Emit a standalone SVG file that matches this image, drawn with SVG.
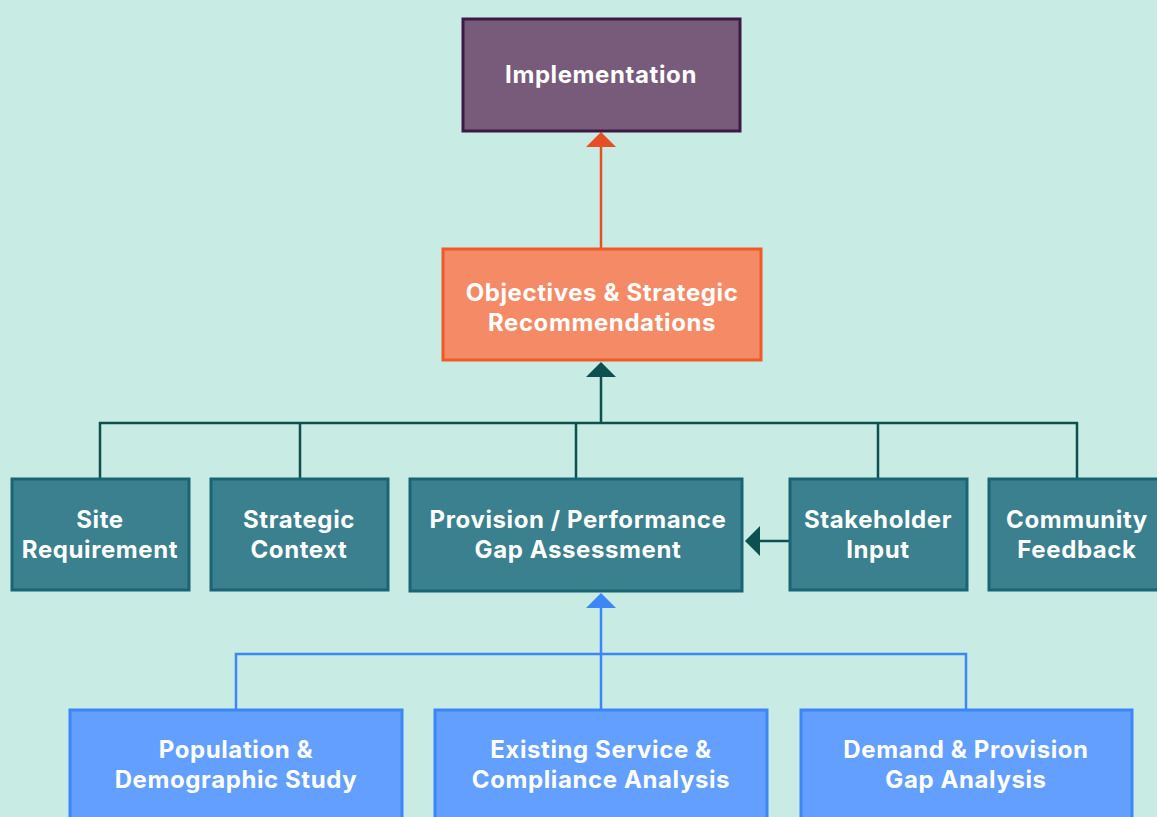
<svg xmlns="http://www.w3.org/2000/svg" width="1157" height="817" viewBox="0 0 1157 817">
<style>
.t{font-family:Inter,"Noto Sans","Liberation Sans",sans-serif;font-weight:700;font-size:24px;letter-spacing:0.6px;fill:#ffffff;text-anchor:middle;dominant-baseline:central}
.purple{fill:#785b7a;stroke:#3d1a45;stroke-width:3}
.orange{fill:#f58a66;stroke:#f05a28;stroke-width:3}
.teal{fill:#3a808e;stroke:#1b6474;stroke-width:3}
.blue{fill:#639ffe;stroke:#3d86f8;stroke-width:3}
.cd{fill:none;stroke:#0d5050;stroke-width:2.5}
.co{fill:none;stroke:#e84e25;stroke-width:2.5}
.cb{fill:none;stroke:#3d86f8;stroke-width:2.5}
</style>
<rect width="1157" height="817" fill="#c8ebe3"/>
<g id="connectors">
<line class="co" x1="601" y1="248" x2="601" y2="144"/>
<polygon points="601,132 616,147 586,147" fill="#e84e25"/>
<path class="cd" d="M100,478 V423 H1077 V478 M300,423 V478 M576,423 V478 M878,423 V478 M601,423 V374"/>
<polygon points="601,362 616,377 586,377" fill="#0d5050"/>
<line class="cd" x1="789" y1="541" x2="758" y2="541"/>
<polygon points="745,541 760,526 760,556" fill="#0d5050"/>
<path class="cb" d="M236,709 V654 H966 V709 M601,709 V605"/>
<polygon points="601,593 616,608 586,608" fill="#3d86f8"/>
</g>
<g id="implementation"><rect class="purple" x="463" y="19" width="277" height="112"/><text class="t" x="601" y="74">Implementation</text></g>
<g id="objectives"><rect class="orange" x="443" y="249" width="318" height="111"/><text class="t" x="602" y="292">Objectives &amp; Strategic</text><text class="t" x="602" y="322">Recommendations</text></g>
<g id="site"><rect class="teal" x="12" y="479" width="177" height="111"/><text class="t" x="100" y="519">Site</text><text class="t" x="100" y="549">Requirement</text></g>
<g id="strategic"><rect class="teal" x="211" y="479" width="177" height="111"/><text class="t" x="299" y="519">Strategic</text><text class="t" x="299" y="549">Context</text></g>
<g id="provision"><rect class="teal" x="410" y="479" width="332" height="112"/><text class="t" x="578" y="519">Provision / Performance</text><text class="t" x="578" y="549">Gap Assessment</text></g>
<g id="stakeholder"><rect class="teal" x="790" y="479" width="177" height="111"/><text class="t" x="878" y="519">Stakeholder</text><text class="t" x="878" y="549">Input</text></g>
<g id="community"><rect class="teal" x="989" y="479" width="177" height="111"/><text class="t" x="1077" y="519">Community</text><text class="t" x="1077" y="549">Feedback</text></g>
<g id="population"><rect class="blue" x="70" y="710" width="332" height="112"/><text class="t" x="236" y="749">Population &amp;</text><text class="t" x="236" y="779">Demographic Study</text></g>
<g id="existing"><rect class="blue" x="435" y="710" width="332" height="112"/><text class="t" x="601" y="749">Existing Service &amp;</text><text class="t" x="601" y="779">Compliance Analysis</text></g>
<g id="demand"><rect class="blue" x="801" y="710" width="331" height="112"/><text class="t" x="966" y="749">Demand &amp; Provision</text><text class="t" x="966" y="779">Gap Analysis</text></g>
</svg>
